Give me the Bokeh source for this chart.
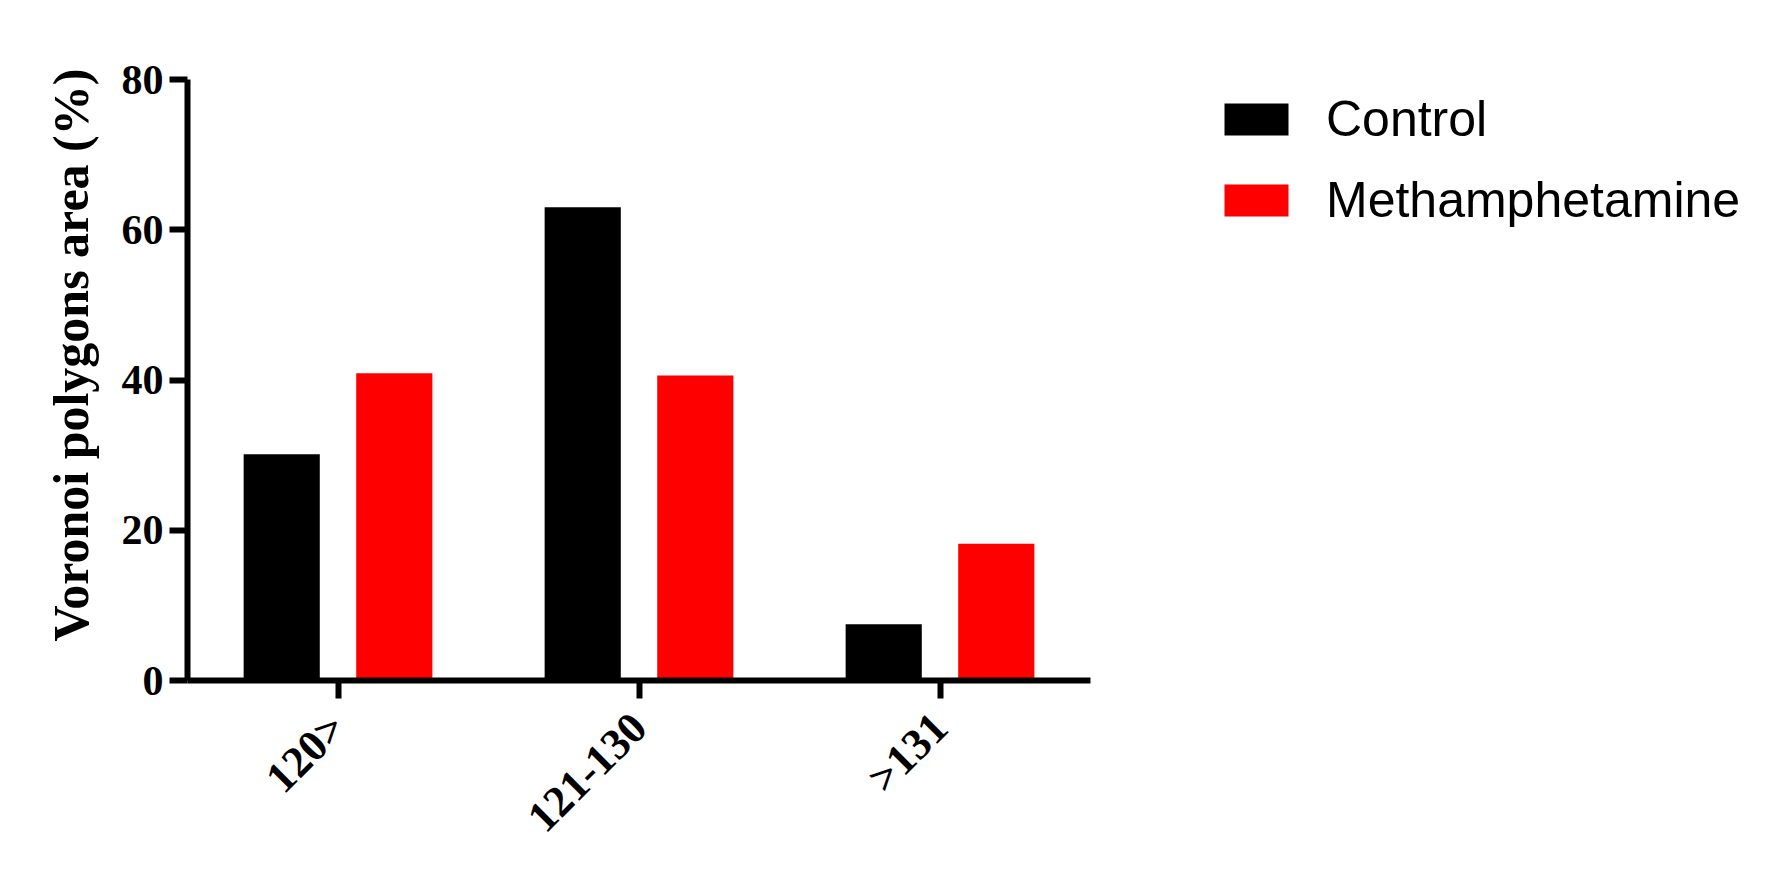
import math
from bokeh.plotting import figure
from bokeh.models import ColumnDataSource, FactorRange, Range1d, Legend, LegendItem, FixedTicker
from bokeh.transform import dodge
from bokeh.embed import file_html
from bokeh.resources import INLINE

categories = ["120>", "121-130", ">131"]
control = [30.1, 63.0, 7.5]
methamphetamine = [40.9, 40.6, 18.2]
series_names = ["Control", "Methamphetamine"]
series_colors = ["#000000", "#FF0000"]
y_ticks = [0, 20, 40, 60, 80]
y_title = "Voronoi polygons area (%)"

src = ColumnDataSource(dict(cat=categories, control=control, meth=methamphetamine))

p = figure(
    x_range=FactorRange(*categories), y_range=Range1d(0, 80),
    frame_width=903, frame_height=601, output_backend="svg", toolbar_location=None,
    min_border_left=187, min_border_top=79, min_border_bottom=188, min_border_right=0,
)
p.outline_line_color = None
p.xgrid.visible = False
p.ygrid.visible = False
p.x_range.range_padding = 0

r1 = p.vbar(x=dodge("cat", -0.187, range=p.x_range), top="control", width=0.253, source=src,
            fill_color=series_colors[0], line_color=None)
r2 = p.vbar(x=dodge("cat", 0.187, range=p.x_range), top="meth", width=0.253, source=src,
            fill_color=series_colors[1], line_color=None)

for ax in (p.xaxis[0], p.yaxis[0]):
    ax.axis_line_width = 6
    ax.axis_line_color = "black"
    ax.major_tick_line_width = 6
    ax.major_tick_line_color = "black"
    ax.major_tick_out = 18
    ax.major_tick_in = 0
    ax.minor_tick_line_color = None
    ax.major_label_text_font = "Liberation Serif"
    ax.major_label_text_font_style = "bold"
    ax.major_label_text_color = "black"

p.yaxis.major_label_text_font_size = "42px"
p.xaxis.major_label_text_font_size = "44px"

p.yaxis.ticker = FixedTicker(ticks=y_ticks)
p.yaxis.major_label_standoff = 6
# leading non-breaking spaces nudge the centred title upward, as in the reference
p.yaxis.axis_label = "\u00a0\u00a0\u00a0\u00a0" + y_title
p.yaxis.axis_label_text_font = "Liberation Serif"
p.yaxis.axis_label_text_font_style = "bold"
p.yaxis.axis_label_text_font_size = "50px"
p.yaxis.axis_label_text_color = "black"
p.yaxis.axis_label_standoff = 20

p.xaxis.major_label_orientation = math.pi / 4
p.xaxis.major_label_standoff = 22

legend = Legend(
    items=[LegendItem(label=series_names[0], renderers=[r1]),
           LegendItem(label=series_names[1], renderers=[r2])],
    location=(126, 450),
    orientation="vertical",
    glyph_width=80, glyph_height=40,
    label_text_font="Liberation Sans", label_text_font_size="50px",
    label_text_color="black",
    label_standoff=30, label_height=60, spacing=21,
    border_line_color=None, background_fill_alpha=0,
    padding=0, margin=0,
)
p.add_layout(legend, "right")

open("out.html", "w").write(file_html(p, INLINE))
